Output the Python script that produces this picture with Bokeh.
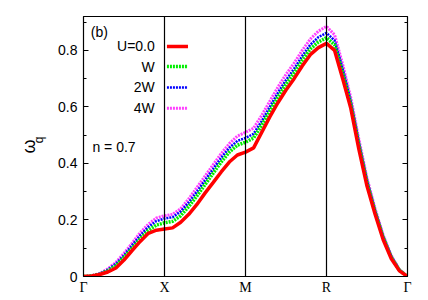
from bokeh.plotting import figure
from bokeh.models import Span, Label, LinearAxis, FixedTicker, Range1d
from bokeh.embed import file_html
from bokeh.resources import INLINE

# q path positions (Γ-X-M-R-Γ), 0.1 steps along each segment
q = [round(i * 0.1, 1) for i in range(41)]

u0 = [0, 0.002, 0.007, 0.016, 0.03, 0.058, 0.092, 0.124, 0.153, 0.164, 0.168,
      0.172, 0.192, 0.22, 0.255, 0.295, 0.332, 0.37, 0.405, 0.43, 0.44,
      0.455, 0.51, 0.565, 0.615, 0.66, 0.70, 0.745, 0.785, 0.81, 0.825,
      0.80, 0.70, 0.595, 0.45, 0.32, 0.22, 0.13, 0.063, 0.02, 0]
uW = [0, 0.002, 0.008, 0.02, 0.038, 0.068, 0.10, 0.133, 0.163, 0.182, 0.19,
      0.195, 0.215, 0.248, 0.285, 0.325, 0.365, 0.405, 0.44, 0.465, 0.475,
      0.49, 0.535, 0.585, 0.635, 0.68, 0.72, 0.765, 0.805, 0.83, 0.845,
      0.82, 0.72, 0.61, 0.465, 0.333, 0.229, 0.138, 0.068, 0.022, 0]
u2W = [0, 0.003, 0.01, 0.024, 0.045, 0.075, 0.11, 0.145, 0.175, 0.196, 0.205,
       0.21, 0.23, 0.262, 0.30, 0.34, 0.38, 0.42, 0.455, 0.48, 0.49,
       0.505, 0.55, 0.60, 0.65, 0.695, 0.735, 0.78, 0.82, 0.847, 0.862,
       0.835, 0.735, 0.62, 0.475, 0.34, 0.234, 0.142, 0.071, 0.023, 0]
u4W = [0, 0.003, 0.011, 0.027, 0.05, 0.082, 0.118, 0.155, 0.185, 0.207, 0.215,
       0.22, 0.24, 0.275, 0.315, 0.355, 0.395, 0.435, 0.47, 0.497, 0.51,
       0.525, 0.57, 0.62, 0.67, 0.715, 0.755, 0.80, 0.84, 0.868, 0.885,
       0.855, 0.75, 0.632, 0.485, 0.348, 0.24, 0.146, 0.074, 0.025, 0]

sym_pos = [0, 1, 2, 3, 4]
sym_labels = ["Γ", "X", "M", "R", "Γ"]
y_ticks = [0, 0.2, 0.4, 0.6, 0.8]
legend_labels = ["U=0.0", "W", "2W", "4W"]

p = figure(width=420, height=300, output_backend="svg", toolbar_location=None,
           x_range=Range1d(0, 4), y_range=Range1d(0, 0.92),
           frame_width=324, frame_height=260,
           min_border_left=83, min_border_top=16, min_border_right=13,
           min_border_bottom=24)
p.grid.visible = False
p.outline_line_color = "black"
p.outline_line_width = 1.2
p.background_fill_color = "white"
p.border_fill_color = "white"

# x axis
xa = p.xaxis[0]
xa.ticker = FixedTicker(ticks=sym_pos)
xa.major_label_overrides = {k: v for k, v in zip(sym_pos, sym_labels)}
xa.major_tick_in = 0
xa.major_tick_out = 0
xa.minor_tick_in = 0
xa.minor_tick_out = 0
xa.major_label_text_font = "Liberation Serif"
xa.major_label_text_font_size = "14px"
xa.major_label_text_color = "black"
xa.major_label_standoff = 3
xa.axis_line_color = "black"

# y axis (its label carries the subscript "q" of ω_q)
ya = p.yaxis[0]
ya.ticker = FixedTicker(ticks=y_ticks, minor_ticks=[0.1, 0.3, 0.5, 0.7, 0.9])
ya.major_label_overrides = {0: "0"}
ya.major_tick_in = 5
ya.major_tick_out = 0
ya.minor_tick_in = 3
ya.minor_tick_out = 0
ya.major_label_text_font = "Liberation Sans"
ya.major_label_text_font_size = "14px"
ya.major_label_text_color = "black"
ya.major_label_standoff = 6
ya.axis_line_color = "black"
ya.axis_label = "\u00a0" * 4 + "q"
ya.axis_label_text_font = "Liberation Sans"
ya.axis_label_text_font_size = "12px"
ya.axis_label_text_font_style = "normal"
ya.axis_label_text_color = "black"
ya.axis_label_standoff = 9

# outer left axis carrying "ω"
wa = LinearAxis(ticker=FixedTicker(ticks=[]), axis_line_color=None,
                major_tick_line_color=None, minor_tick_line_color=None,
                major_label_text_font_size="1px")
wa.axis_label = "ω"
wa.axis_label_text_font = "Liberation Sans"
wa.axis_label_text_font_size = "18px"
wa.axis_label_text_font_style = "normal"
wa.axis_label_text_color = "black"
wa.axis_label_standoff = -9
p.add_layout(wa, "left")

ra = LinearAxis(ticker=FixedTicker(ticks=y_ticks, minor_ticks=[0.1, 0.3, 0.5, 0.7, 0.9]))
ra.major_label_text_alpha = 0
ra.major_label_text_font_size = "1px"
ra.major_tick_in = 5
ra.major_tick_out = 0
ra.minor_tick_in = 3
ra.minor_tick_out = 0
p.add_layout(ra, "right")

for xv in sym_pos[1:4]:
    p.add_layout(Span(location=xv, dimension="height", line_color="black", line_width=1.2))

styles = [
    (u4W, "#ff40ff", "2 1", 3),
    (u2W, "#0000ff", "2 1", 2.5),
    (uW, "#00ee00", "2 1", 3.5),
    (u0, "#ff0000", "solid", 3.5),
]
for ys, c, d, w in styles:
    p.line(q, ys, line_color=c, line_dash=d, line_width=w)

# legend (text right-aligned, sample line to the right)
leg_y = [0.814, 0.743, 0.669, 0.595]
leg_style = [("#ff0000", "solid", 3.5), ("#00ee00", "2 1", 3.5),
             ("#0000ff", "2 1", 2.5), ("#ff40ff", "2 1", 3)]
for lab, yy, (c, d, w) in zip(legend_labels, leg_y, leg_style):
    p.add_layout(Label(x=0.88, y=yy, text=lab, text_align="right", text_baseline="middle",
                       text_font="Liberation Sans", text_font_size="14px", text_color="black"))
    p.line([1.03, 1.29], [yy, yy], line_color=c, line_dash=d, line_width=w)

p.add_layout(Label(x=0.09, y=0.865, text="(b)", text_baseline="middle", text_color="black",
                   text_font="Liberation Sans", text_font_size="14px"))
p.add_layout(Label(x=0.11, y=0.46, text="n = 0.7", text_baseline="middle", text_color="black",
                   text_font="Liberation Sans", text_font_size="14px"))

open("out.html", "w").write(file_html(p, INLINE))
